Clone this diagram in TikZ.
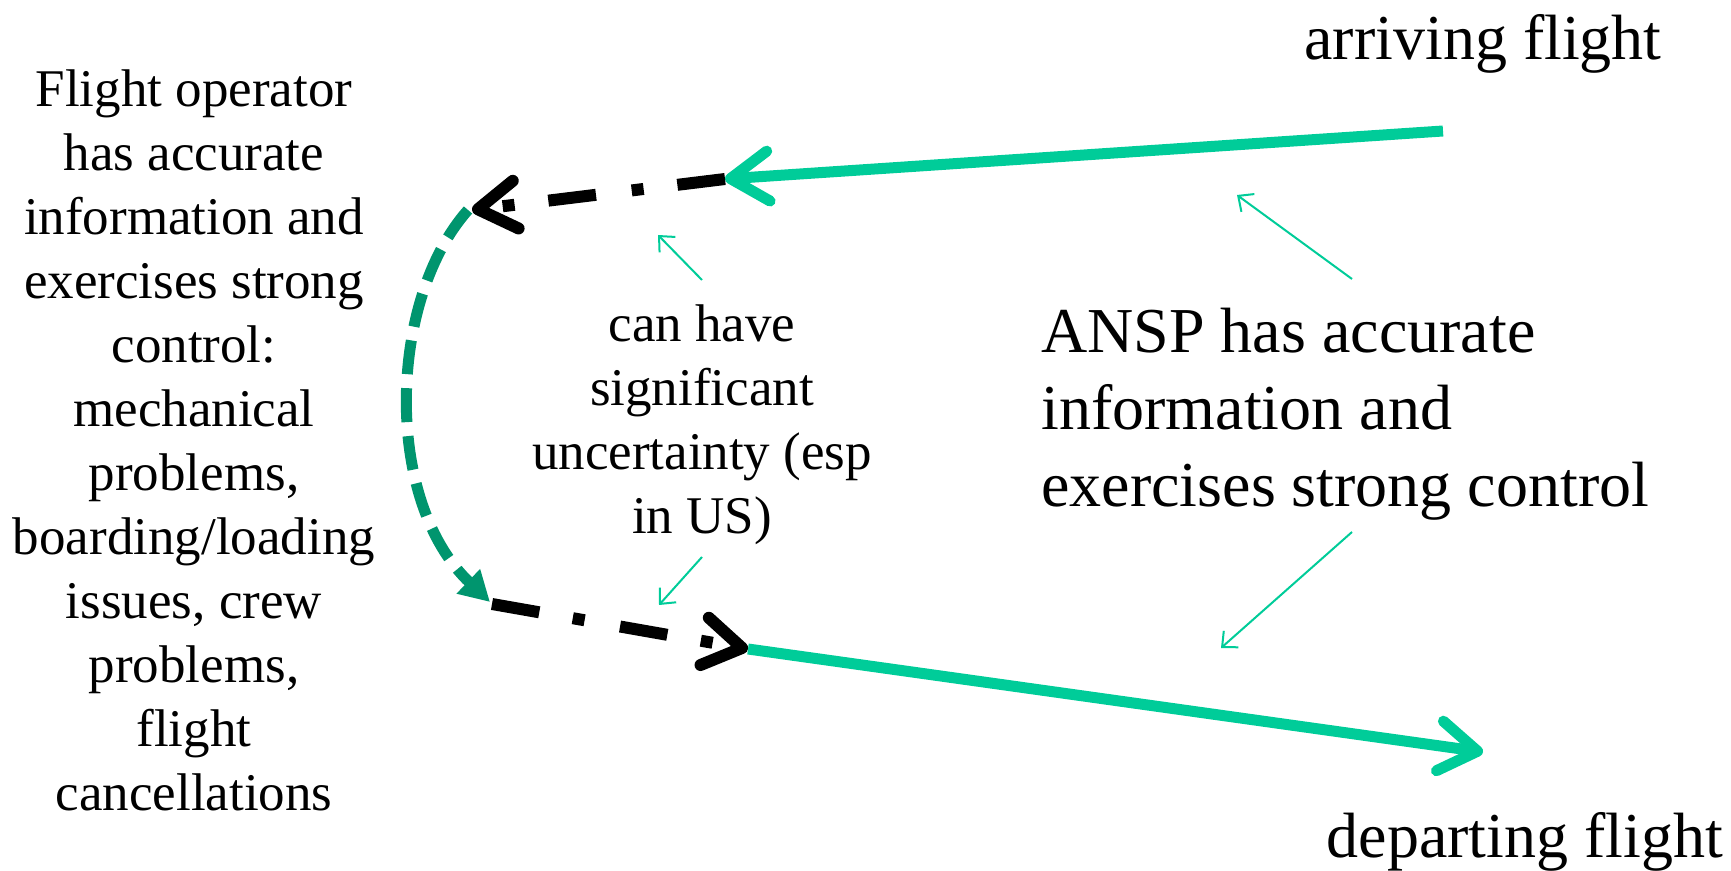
\documentclass[tikz,border=0pt]{standalone}
\usepackage{fontspec}
\setmainfont{Liberation Serif}
\usetikzlibrary{arrows.meta}
\definecolor{lgreen}{HTML}{00CC99}
\definecolor{dgreen}{HTML}{00956E}
\begin{document}
\begin{tikzpicture}[x=0.5pt,y=-0.5pt,
  bigtxt/.style={inner sep=0pt,font=\fontsize{32}{38.5}\selectfont},
  smalltxt/.style={inner sep=0pt,align=center,font=\fontsize{26.5}{32}\selectfont},
  mainflow/.style={lgreen,line width=5.5pt,-{Straight Barb[length=19pt,width=25pt,line cap=round,line join=round]}},
  uncert/.style={black,line width=6pt,dash pattern=on 24pt off 17pt on 6pt off 18pt,
     -{Straight Barb[length=19pt,width=24pt,line cap=round,line join=round]}},
  turnround/.style={dgreen,line width=5.5pt,dash pattern=on 17pt off 7pt,-{Triangle[length=15pt,width=16pt]}},
  pointer/.style={lgreen,line width=1pt,-{Straight Barb[length=6pt,width=11pt]}}]
\useasboundingbox (0,0) rectangle (1731,871);
% texts
\node[bigtxt] (arr) at (1483,44) {arriving flight};
\node[bigtxt] (dep) at (1525,842) {departing flight};
\node[smalltxt] (op) at (194,440) {Flight operator\\has accurate\\information and\\exercises strong\\control:\\mechanical\\problems,\\boarding/loading\\issues, crew\\problems,\\flight\\cancellations};
\node[smalltxt] (unc) at (702,425) {can have\\significant\\uncertainty (esp\\in US)};
\node[bigtxt,align=left,anchor=west] (ansp) at (1041,414) {ANSP has accurate\\information and\\exercises strong control};
% path points
\coordinate (a0) at (1443,131);
\coordinate (a1) at (725,179);
\coordinate (a2) at (472,210);
\coordinate (c0) at (468,210);
\coordinate (c1) at (490,602);
\coordinate (d0) at (492,604);
\coordinate (d1) at (748,649);
\coordinate (d2) at (1483,752);
% flows
\draw[mainflow] (a0) -- (a1);
\draw[uncert] (a1) -- (a2);
\draw[turnround] (c0) .. controls (388,300) and (383,500) .. (c1);
\draw[uncert] (d0) -- (d1);
\draw[mainflow] (d1) -- (d2);
% pointers
\coordinate (p1s) at (702,280); \coordinate (p1e) at (658,235);
\coordinate (p2s) at (702,557); \coordinate (p2e) at (659,605);
\coordinate (p3s) at (1352,279); \coordinate (p3e) at (1237,195);
\coordinate (p4s) at (1352,532); \coordinate (p4e) at (1221,648);
\draw[pointer] (p1s) -- (p1e);
\draw[pointer] (p2s) -- (p2e);
\draw[pointer] (p3s) -- (p3e);
\draw[pointer] (p4s) -- (p4e);
\end{tikzpicture}
\end{document}
